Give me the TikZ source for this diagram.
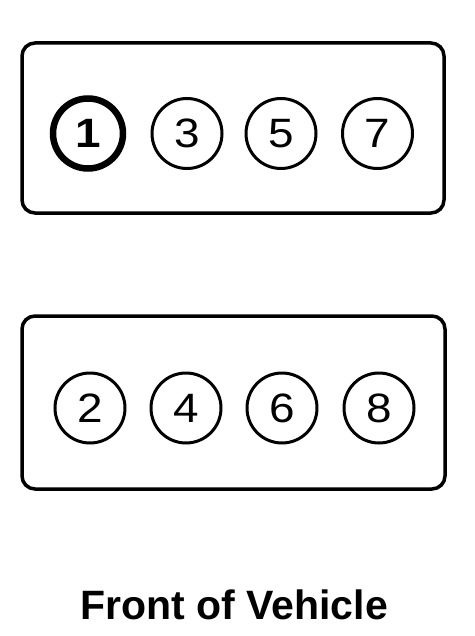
\documentclass[tikz,border=0pt]{standalone}
\usepackage{fontspec}
\setmainfont{Liberation Sans}
\newfontfamily\digitfont[FakeStretch=1.12]{Liberation Sans}
\begin{document}
\begin{tikzpicture}[x=1pt,y=-1pt,
  bank/.style={draw=black,line width=3.5pt,rounded corners=13pt},
  cyl/.style={circle,draw=black,line width=3pt,minimum size=70pt,inner sep=0pt,
    font=\digitfont\fontsize{41}{41}\selectfont},
  cylone/.style={cyl,line width=6.5pt,font=\digitfont\fontsize{41}{41}\selectfont\bfseries},
  caption/.style={font=\fontsize{41}{41}\selectfont\bfseries,inner sep=0pt,anchor=base}]
\useasboundingbox (0,0) rectangle (474,636);
\draw[bank] (22,43) rectangle (444,213);
\draw[bank] (22,316) rectangle (445,489);
\node[cylone] (c1) at (88,133.5) {1};
\node[cyl] (c3) at (187,133.5) {3};
\node[cyl] (c5) at (281,133.5) {5};
\node[cyl] (c7) at (377.5,133.5) {7};
\node[cyl] (c2) at (90,408) {2};
\node[cyl] (c4) at (186,408) {4};
\node[cyl] (c6) at (282,408) {6};
\node[cyl] (c8) at (379,408) {8};
\node[caption] (front) at (234,619) {Front of Vehicle};
\end{tikzpicture}
\end{document}
